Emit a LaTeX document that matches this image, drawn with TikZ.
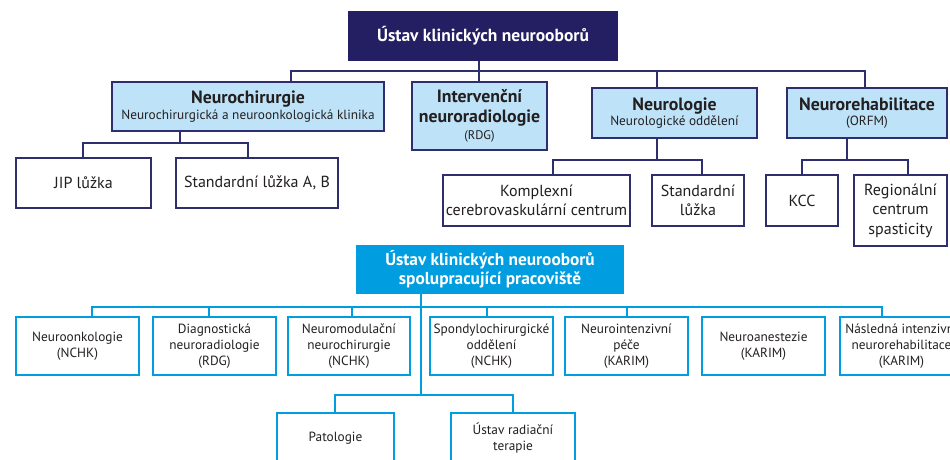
\documentclass[tikz,border=0pt]{standalone}
\usepackage{fontspec}
\setmainfont{PT Sans}
\definecolor{navy}{RGB}{36,31,98}
\definecolor{navyline}{RGB}{46,45,110}
\definecolor{lightblue}{RGB}{190,227,248}
\definecolor{cyanblue}{RGB}{0,158,224}
\definecolor{textblack}{RGB}{35,31,32}
\tikzset{
  topbox/.style={fill=navy, text=white, inner sep=0pt, align=center, font=\bfseries\fontsize{17.5}{20}\selectfont},
  mainbox/.style={draw=navyline, line width=2pt, fill=lightblue, inner sep=0pt, align=center, text=textblack, font=\fontsize{13.3}{15.5}\selectfont},
  subbox/.style={draw=navyline, line width=2pt, fill=white, inner sep=0pt, align=center, text=textblack, font=\fontsize{16}{19.5}\selectfont},
  cyanhead/.style={fill=cyanblue, text=white, inner sep=0pt, align=center, font=\bfseries\fontsize{17.3}{19}\selectfont},
  cyanbox/.style={draw=cyanblue, line width=2pt, fill=white, inner sep=0pt, align=center, text=textblack, font=\fontsize{13.3}{16}\selectfont},
  navyconn/.style={draw=navyline, line width=1.8pt},
  cyanconn/.style={draw=cyanblue, line width=1.8pt},
}
\newcommand{\hbold}[1]{{\bfseries\fontsize{17.8}{20}\selectfont #1}}
\begin{document}
\begin{tikzpicture}[x=1pt,y=-1pt]
\useasboundingbox (0,0) rectangle (950,459);
\clip (0,0) rectangle (950,459);
\fill[white] (0,0) rectangle (950,459);

% ---- top tree nodes
\node[topbox, minimum width=270pt, minimum height=50pt] (top) at (483,36) {Ústav klinických neurooborů};
\node[mainbox, minimum width=272pt, minimum height=49pt] (nc) at (248,106.5) {\hbold{Neurochirurgie}\\Neurochirurgická a neuroonkologická klinika};
\node[mainbox, minimum width=135pt, minimum height=68pt, font=\fontsize{12.5}{20}\selectfont] (iv) at (479.5,116) {\hbold{Intervenční}\\\hbold{neuroradiologie}\\[-3pt](RDG)};
\node[mainbox, minimum width=165pt, minimum height=50pt] (nl) at (674.5,113) {\hbold{Neurologie}\\Neurologické oddělení};
\node[mainbox, minimum width=160pt, minimum height=50pt] (nr) at (867,113) {\hbold{Neurorehabilitace}\\(ORFM)};

\node[subbox, minimum width=135pt, minimum height=50pt] (jip) at (83.5,183) {JIP lůžka};
\node[subbox, minimum width=162pt, minimum height=50pt] (std) at (257,183) {Standardní lůžka A, B};
\node[subbox, minimum width=187pt, minimum height=51pt] (kom) at (536.5,200.5) {Komplexní\\cerebrovaskulární centrum};
\node[subbox, minimum width=92pt, minimum height=51pt] (stl) at (698,200.5) {Standardní\\lůžka};
\node[subbox, minimum width=72pt, minimum height=51pt] (kcc) at (802,200.5) {KCC};
\node[subbox, minimum width=93pt, minimum height=71pt] (reg) at (900.5,210.5) {Regionální\\centrum\\spasticity};

% ---- top tree connectors
\coordinate (j0) at (479,71);
\coordinate (h1) at (291,71);
\coordinate (h3) at (657,71);
\coordinate (h4) at (865,71);
\draw[navyconn] (top.south -| j0) -- (iv.north -| j0);
\draw[navyconn] (nc.north -| h1) -- (h1) -- (h4) -- (nr.north -| h4);
\draw[navyconn] (h3) -- (nl.north -| h3);

\coordinate (a0) at (180,143);
\coordinate (a1) at (83,143);
\coordinate (a2) at (248,143);
\draw[navyconn] (nc.south -| a0) -- (a0);
\draw[navyconn] (jip.north -| a1) -- (a1) -- (a2) -- (std.north -| a2);

\coordinate (c0) at (657,160);
\coordinate (c1) at (553,160);
\coordinate (c2) at (702,160);
\draw[navyconn] (nl.south -| c0) -- (c0);
\draw[navyconn] (kom.north -| c1) -- (c1) -- (c2) -- (stl.north -| c2);

\coordinate (d0) at (847,160);
\coordinate (d1) at (802,160);
\coordinate (d2) at (908,160);
\draw[navyconn] (nr.south -| d0) -- (d0);
\draw[navyconn] (kcc.north -| d1) -- (d1) -- (d2) -- (reg.north -| d2);

% ---- lower tree nodes
\node[cyanhead, minimum width=268pt, minimum height=49pt] (ch) at (490,269.5) {Ústav klinických neurooborů\\spolupracující pracoviště};
\node[cyanbox, minimum width=123pt, minimum height=58pt] (b1) at (77.5,346) {Neuroonkologie\\(NCHK)};
\node[cyanbox, minimum width=123pt, minimum height=58pt] (b2) at (214.5,346) {Diagnostická\\neuroradiologie\\(RDG)};
\node[cyanbox, minimum width=122pt, minimum height=58pt] (b3) at (349,346) {Neuromodulační\\neurochirurgie\\(NCHK)};
\node[cyanbox, minimum width=123pt, minimum height=58pt] (b4) at (491.5,346) {Spondylochirurgické\\oddělení\\(NCHK)};
\node[cyanbox, minimum width=123pt, minimum height=58pt] (b5) at (626.5,346) {Neurointenzivní\\péče\\(KARIM)};
\node[cyanbox, minimum width=123pt, minimum height=58pt] (b6) at (763.5,346) {Neuroanestezie\\(KARIM)};
\node[cyanbox, minimum width=123pt, minimum height=58pt] (b7) at (901.5,346) {Následná intenzivní\\neurorehabilitace\\(KARIM)};
\node[cyanbox, minimum width=117pt, minimum height=50pt] (b8) at (335.5,438) {Patologie};
\node[cyanbox, minimum width=124pt, minimum height=50pt] (b9) at (513,438) {Ústav radiační\\terapie};

% ---- lower tree connectors
\coordinate (e1) at (92,307);
\coordinate (e2) at (209,307);
\coordinate (e3) at (352,307);
\coordinate (e4) at (487,307);
\coordinate (e5) at (627,307);
\coordinate (e6) at (882,307);
\coordinate (f0) at (421,395);
\coordinate (f1) at (335,395);
\coordinate (f2) at (513,395);
\draw[cyanconn] (b1.north -| e1) -- (e1) -- (e6) -- (b7.north -| e6);
\draw[cyanconn] (e2) -- (b2.north -| e2);
\draw[cyanconn] (e3) -- (b3.north -| e3);
\draw[cyanconn] (e4) -- (b4.north -| e4);
\draw[cyanconn] (e5) -- (b5.north -| e5);
\draw[cyanconn] (ch.south -| f0) -- (f0);
\draw[cyanconn] (b8.north -| f1) -- (f1) -- (f2) -- (b9.north -| f2);
\end{tikzpicture}
\end{document}
